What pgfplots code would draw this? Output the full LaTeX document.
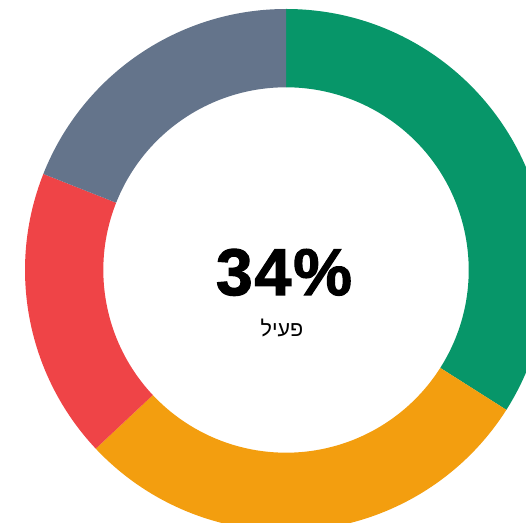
\documentclass[border=0pt]{standalone}
\usepackage{pgfplots}
\usepackage{pgfplotstable}
\pgfplotsset{compat=1.18}
\usepackage{fontspec}
\setmainfont{Liberation Sans}
\newfontfamily\heavyfont[FakeBold=1.8,LetterSpace=3]{Liberation Sans Bold}
\newfontfamily\hebfont[Script=Hebrew]{Liberation Sans}
\TeXXeTstate=1
\definecolor{color0}{HTML}{079669}
\definecolor{color1}{HTML}{F39E0F}
\definecolor{color2}{HTML}{EF4447}
\definecolor{color3}{HTML}{64748B}
\pgfplotstableread{
label value
Green 34
Orange 29
Red 18
Gray 19
}\donut
\begin{document}
\begin{tikzpicture}
\useasboundingbox (0,0) rectangle (526pt,522pt);
\clip (0,0) rectangle (526pt,522pt);
\begin{axis}[at={(0,0)}, anchor=south west, scale only axis,
  width=526pt, height=522pt, xmin=-286, xmax=240, ymin=-252, ymax=270,
  hide axis, clip=true]
\def\cum{0}
\pgfplotsforeachungrouped \i in {0,...,3}{%
  \pgfplotstablegetelem{\i}{value}\of\donut
  \let\val\pgfplotsretval
  \pgfmathsetmacro\aS{90-3.6*\cum}%
  \pgfmathsetmacro\cum{\cum+\val}%
  \xdef\cum{\cum}%
  \pgfmathsetmacro\aE{90-3.6*\cum}%
  \pgfmathsetmacro\xo{261*cos(\aS)}%
  \pgfmathsetmacro\yo{261*sin(\aS)}%
  \pgfmathsetmacro\xi{182.7*cos(\aE)}%
  \pgfmathsetmacro\yi{182.7*sin(\aE)}%
  \edef\tmp{\noexpand\fill[color\i] (axis cs:\xo,\yo) arc[start angle=\aS, end angle=\aE, radius=261pt] -- (axis cs:\xi,\yi) arc[start angle=\aE, end angle=\aS, radius=182.7pt] -- cycle;}%
  \tmp
}
\node[anchor=base] at (axis cs:-2,-25) {\heavyfont\fontsize{66}{70}\selectfont 34\%};
\node[anchor=base] at (axis cs:-4,-66) {\hebfont\fontsize{21.5}{24}\selectfont\beginR פעיל\endR};
\end{axis}
\end{tikzpicture}
\end{document}
